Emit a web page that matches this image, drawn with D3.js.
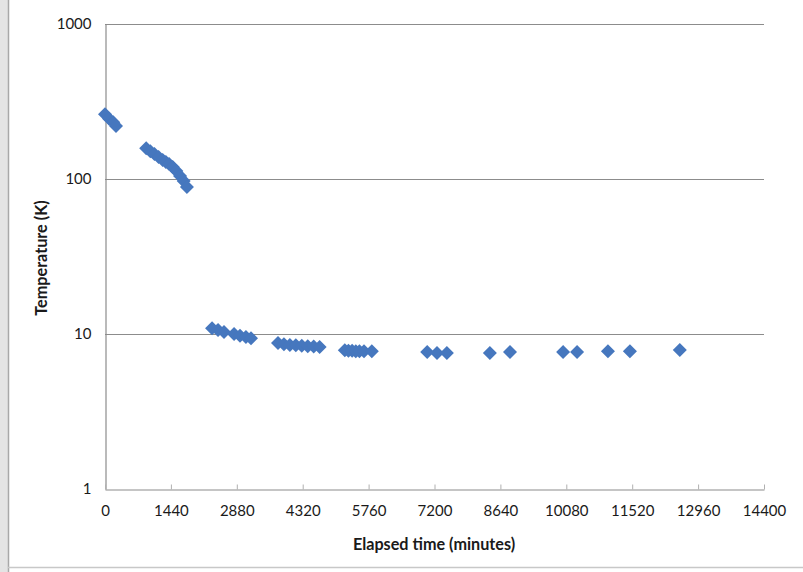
<!DOCTYPE html>
<html>
<head>
<meta charset="utf-8">
<script src="https://cdn.jsdelivr.net/npm/d3@7/dist/d3.min.js"></script>
<style>
  html, body { margin: 0; padding: 0; background: #fff; }
  svg { display: block; }
  text { font-family: Lato, "Open Sans", sans-serif; fill: #1a1a1a; }
</style>
</head>
<body>
<svg id="chart" width="803" height="572"></svg>
<script>
// Elapsed time since start of cooldown (minutes)
const elapsedMinutes = [
  0, 90, 180, 240,
  900, 990, 1080, 1170, 1260, 1330, 1400, 1480, 1560, 1640, 1720, 1790,
  2340, 2470, 2600, 2820, 2950, 3080, 3190,
  3780, 3910, 4040, 4170, 4300, 4430, 4560, 4690,
  5240, 5320, 5400, 5480, 5560, 5660, 5830,
  7040, 7255, 7470, 8410, 8850, 10010, 10315, 10990, 11470, 12560
];
// Measured temperature (K)
const temperatureK = [
  262, 245, 232, 220,
  158, 151, 145, 138.5, 132.5, 128.5, 125, 119.5, 112.5, 104.5, 97, 88.8,
  10.9, 10.6, 10.3, 10.0, 9.75, 9.55, 9.4,
  8.75, 8.6, 8.5, 8.45, 8.4, 8.35, 8.3, 8.25,
  7.85, 7.8, 7.8, 7.75, 7.75, 7.75, 7.75,
  7.65, 7.55, 7.55, 7.55, 7.65, 7.65, 7.65, 7.75, 7.75, 7.88
];
const xTickValues = [0, 1440, 2880, 4320, 5760, 7200, 8640, 10080, 11520, 12960, 14400];
const yTickValues = [1, 10, 100, 1000];

const svg = d3.select("#chart");
const W = 803, H = 572;
const plot = { left: 105, right: 764, top: 24, bottom: 489 };

// Outer frame: shaded left margin strip and bottom rule
svg.append("rect").attr("x", 0).attr("y", 0).attr("width", 8).attr("height", H).attr("fill", "#e4e4e4");
svg.append("line").attr("x1", 8.5).attr("x2", 8.5).attr("y1", 0).attr("y2", H)
  .attr("stroke", "#a8a8a8").attr("stroke-width", 1.5);
svg.append("line").attr("x1", 8).attr("x2", W).attr("y1", 567.5).attr("y2", 567.5)
  .attr("stroke", "#c8c8c8").attr("stroke-width", 1.5);

const x = d3.scaleLinear().domain([0, 14400]).range([plot.left, plot.right]);
const y = d3.scaleLog().domain([1, 1000]).range([plot.bottom, plot.top]);

// Horizontal gridlines at each decade
svg.append("g").selectAll("line")
  .data(yTickValues.filter(v => v > 1))
  .join("line")
  .attr("x1", plot.left).attr("x2", plot.right)
  .attr("y1", d => Math.round(y(d)) + 0.5).attr("y2", d => Math.round(y(d)) + 0.5)
  .attr("stroke", "#8c8c8c").attr("stroke-width", 1.2);

// Y axis
const yAxis = d3.axisLeft(y).tickValues(yTickValues).tickFormat(d3.format("d")).tickSize(0).tickPadding(14);
const gy = svg.append("g").attr("transform", `translate(${plot.left + 0.5},0)`).call(yAxis);
gy.select(".domain").attr("stroke", "#8c8c8c").attr("stroke-width", 1.2);
gy.selectAll("text").attr("font-size", 15).attr("fill", "#1a1a1a");

// X axis with inside tick marks
const xAxis = d3.axisBottom(x).tickValues(xTickValues).tickFormat(d3.format("d")).tickSizeInner(-5).tickSizeOuter(0).tickPadding(16);
const gx = svg.append("g").attr("transform", `translate(0,${plot.bottom + 0.5})`).call(xAxis);
gx.select(".domain").attr("stroke", "#8c8c8c").attr("stroke-width", 1.2);
gx.selectAll(".tick line").attr("stroke", "#b0b0b0");
gx.selectAll("text").attr("font-size", 15).attr("fill", "#1a1a1a");

// Axis titles
svg.append("text")
  .attr("x", 434).attr("y", 550)
  .attr("text-anchor", "middle").attr("font-size", 16.2).attr("font-weight", "bold")
  .text("Elapsed time (minutes)");
svg.append("text")
  .attr("transform", `translate(47,258) rotate(-90)`)
  .attr("text-anchor", "middle").attr("font-size", 16.2).attr("font-weight", "bold")
  .text("Temperature (K)");

// Data markers (diamonds)
const diamond = d3.symbol().type(d3.symbolDiamond2).size(125);
svg.append("g").selectAll("path")
  .data(elapsedMinutes.map((t, i) => ({ t, v: temperatureK[i] })))
  .join("path")
  .attr("transform", d => `translate(${x(d.t)},${y(d.v)})`)
  .attr("d", diamond)
  .attr("fill", "#4677BE");
</script>
</body>
</html>
